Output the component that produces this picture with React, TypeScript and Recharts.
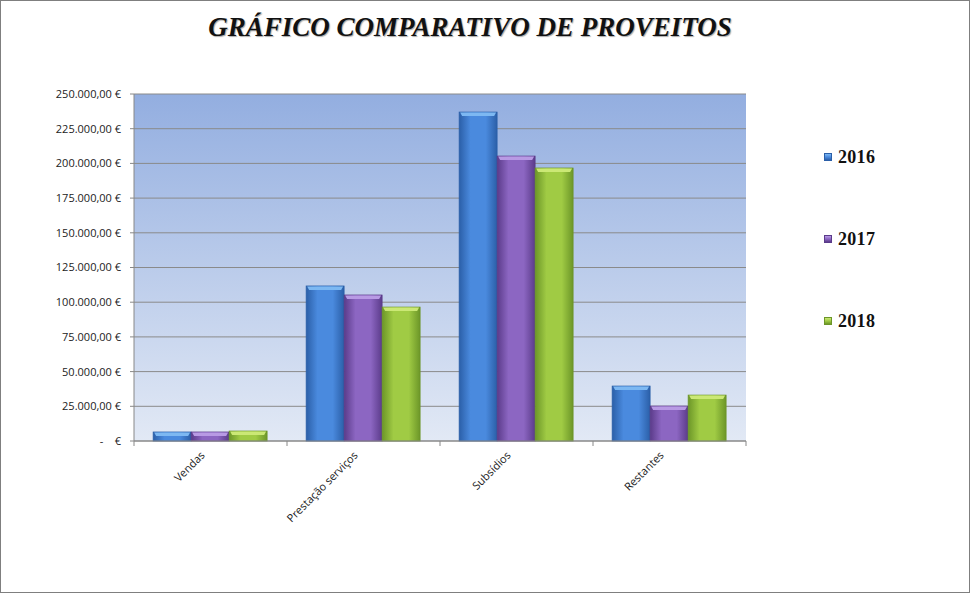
import React from "react";
import { BarChart, Bar, XAxis, YAxis, CartesianGrid } from "recharts";

const categories = ["Vendas", "Prestação serviços", "Subsídios", "Restantes"];
const years = ["2016", "2017", "2018"];
const values2016 = [6500, 111700, 237000, 39600];
const values2017 = [6500, 105200, 205300, 25200];
const values2018 = [7200, 96500, 196700, 33100];
const yTicks = [0, 25000, 50000, 75000, 100000, 125000, 150000, 175000, 200000, 225000, 250000];

const W = 970;
const H = 593;
const M = { top: 94, right: 224, left: 0, bottom: 0 };
const Y_W = 134;
const X_H = 152;
const band = (W - Y_W - M.right) / categories.length;

// edge / middle / top-bevel colour for each year
const palette = [
  { edge: "#2b5fa8", mid: "#4a8ade", top: "#7db8f2" },
  { edge: "#5b3b8a", mid: "#8c66c2", top: "#b89ae4" },
  { edge: "#6c9628", mid: "#a0cb44", top: "#cbe875" },
];

const data = categories.map((name, i) => ({
  name,
  y2016: values2016[i],
  y2017: values2017[i],
  y2018: values2018[i],
}));

const euro = (v: number) => {
  if (v === 0) return "-\u00A0\u00A0\u00A0\u00A0€";
  const s = Math.round(v).toString().replace(/\B(?=(\d{3})+(?!\d))/g, ".");
  return s + ",00 €";
};

const makeShape = (i: number) => (p: any) => {
  const { x, y, width, height } = p;
  if (!height || height <= 0) return <g />;
  const b = Math.min(4, height);
  return (
    <g>
      <rect x={x} y={y} width={width} height={height} fill={`url(#bar${i})`} stroke={palette[i].edge} strokeWidth={0.7} />
      <path
        d={`M${x + 1},${y + 0.5} L${x + width - 1},${y + 0.5} L${x + width - 3},${y + b} L${x + 3},${y + b} Z`}
        fill={palette[i].top}
      />
    </g>
  );
};

// label at the band centre, tick marks at the band edges
const CatTick = (p: any) => {
  const { x, y, payload, index } = p;
  const tx = x - 5;
  const ty = y + 15;
  const last = index === categories.length - 1;
  return (
    <g>
      <line x1={x - band / 2} y1={y} x2={x - band / 2} y2={y + 5} stroke="#888" />
      {last && <line x1={x + band / 2} y1={y} x2={x + band / 2} y2={y + 5} stroke="#888" />}
      <text
        x={tx}
        y={ty}
        textAnchor="end"
        fontSize={11}
        fontFamily="'Open Sans', sans-serif"
        fill="#222"
        transform={`rotate(-45 ${tx} ${ty})`}
      >
        {payload.value}
      </text>
    </g>
  );
};

const LegendBox = () => (
  <div style={{ position: "absolute", left: 824, top: 116 }}>
    {years.map((yr, i) => (
      <div key={yr} style={{ display: "flex", alignItems: "center", height: 82 }}>
        <span
          style={{
            width: 8,
            height: 8,
            marginRight: 6,
            background: `linear-gradient(${palette[i].top}, ${palette[i].mid} 50%, ${palette[i].edge})`,
            border: `1px solid ${palette[i].edge}`,
            boxSizing: "border-box",
          }}
        />
        <span style={{ fontFamily: "'Liberation Serif', serif", fontWeight: "bold", fontSize: 18, color: "#111", letterSpacing: 0.3 }}>
          {yr}
        </span>
      </div>
    ))}
  </div>
);

export default function App() {
  return (
    <div style={{ position: "absolute", left: 0, top: 0, width: W, height: H, background: "#fff" }}>
      <div
        style={{
          position: "absolute",
          left: 0,
          top: 12,
          width: 940,
          textAlign: "center",
          fontFamily: "'Liberation Serif', serif",
          fontWeight: "bold",
          fontStyle: "italic",
          fontSize: 27,
          color: "#111",
          textShadow: "1px 1px 1px #aaa",
        }}
      >
        GRÁFICO COMPARATIVO DE PROVEITOS
      </div>
      <BarChart width={W} height={H} data={data} margin={M} barCategoryGap="12.5%" barGap={0}>
        <defs>
          <linearGradient id="plotBg" x1="0" y1="0" x2="0" y2="1">
            <stop offset="0%" stopColor="#93aee0" />
            <stop offset="100%" stopColor="#e2e9f5" />
          </linearGradient>
          {palette.map((c, i) => (
            <linearGradient key={i} id={`bar${i}`} x1="0" y1="0" x2="1" y2="0">
              <stop offset="0%" stopColor={c.edge} />
              <stop offset="30%" stopColor={c.mid} />
              <stop offset="70%" stopColor={c.mid} />
              <stop offset="100%" stopColor={c.edge} />
            </linearGradient>
          ))}
        </defs>
        <CartesianGrid vertical={false} stroke="#8a8a8a" fill="url(#plotBg)" />
        <XAxis
          dataKey="name"
          interval={0}
          height={X_H}
          stroke="#888"
          tickLine={false}
          tickSize={0}
          tickMargin={0}
          tick={<CatTick />}
        />
        <YAxis
          width={Y_W}
          domain={[0, 250000]}
          ticks={yTicks}
          interval={0}
          stroke="#888"
          tickSize={4}
          tickMargin={9}
          tickFormatter={euro}
          tick={{ fontSize: 11, fill: "#222", fontFamily: "'Open Sans', sans-serif" }}
        />
        <Bar dataKey="y2016" name="2016" shape={makeShape(0)} isAnimationActive={false} />
        <Bar dataKey="y2017" name="2017" shape={makeShape(1)} isAnimationActive={false} />
        <Bar dataKey="y2018" name="2018" shape={makeShape(2)} isAnimationActive={false} />
      </BarChart>
      <LegendBox />
      <div
        style={{
          position: "absolute",
          left: 0,
          top: 0,
          width: W,
          height: H,
          border: "1px solid #7f7f7f",
          boxSizing: "border-box",
          pointerEvents: "none",
        }}
      />
    </div>
  );
}
